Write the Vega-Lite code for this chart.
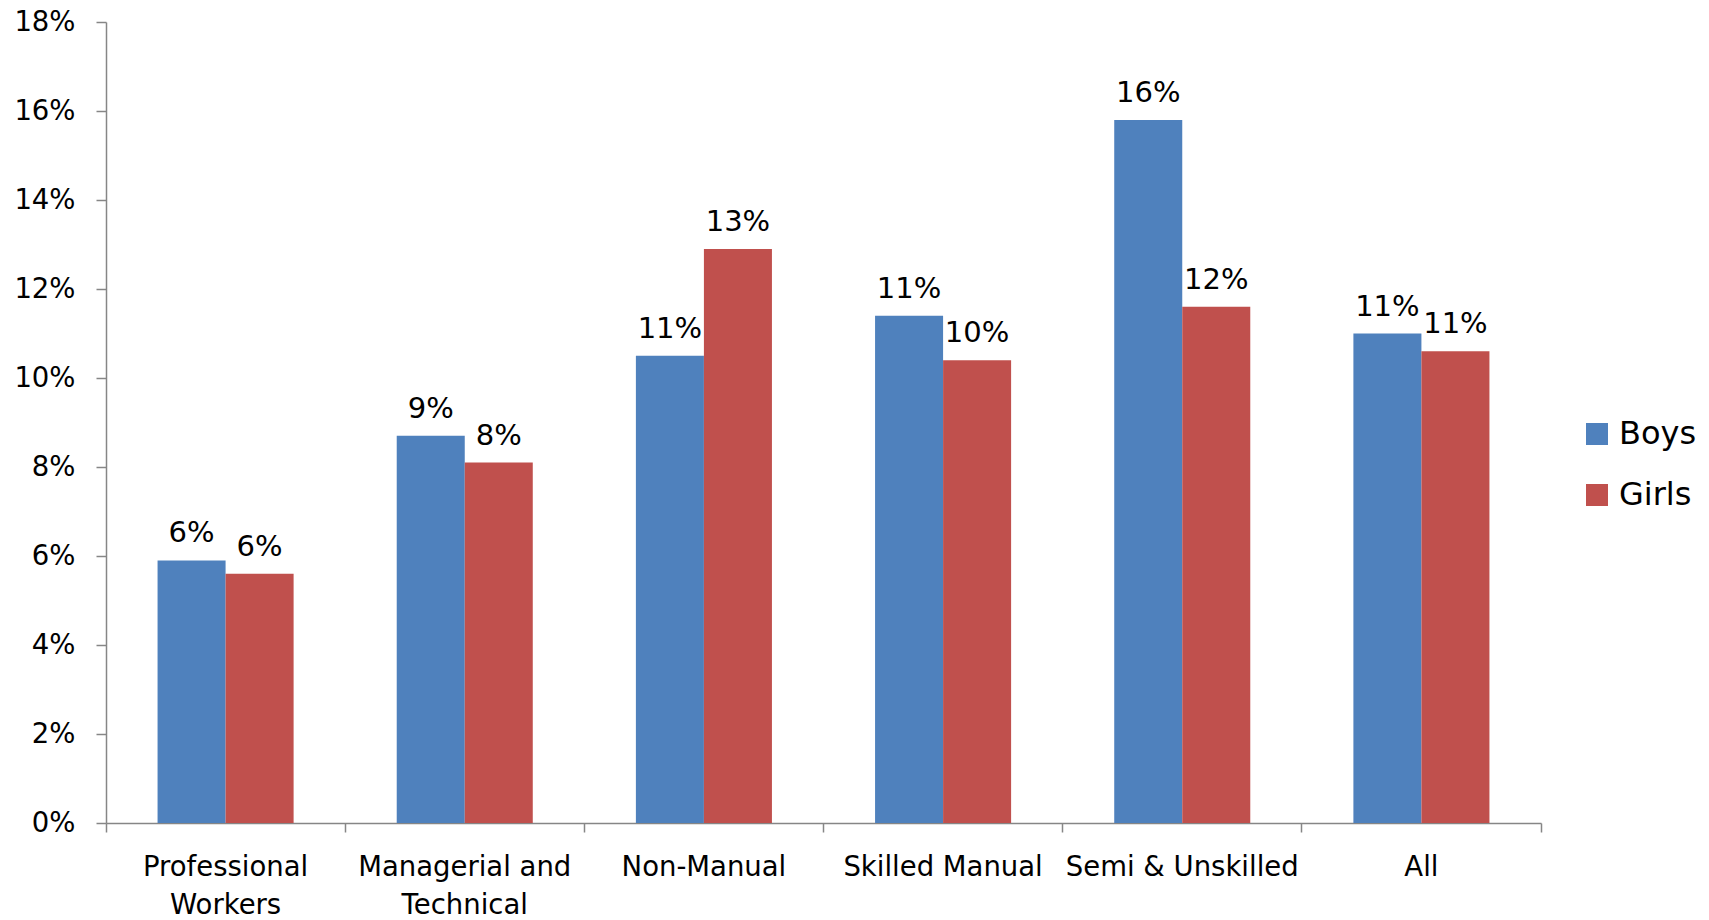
{
  "$schema": "https://vega.github.io/schema/vega-lite/v6.json",
  "width": 1435,
  "height": 801,
  "autosize": {"type": "none"},
  "padding": {"left": 106, "top": 22, "right": 168, "bottom": 97},
  "background": "white",
  "config": {"view": {"stroke": null}, "font": "DejaVu Sans"},
  "data": {
    "values": [
      {"category": "Professional Workers", "gender": "Boys", "value": 0.059},
      {"category": "Professional Workers", "gender": "Girls", "value": 0.056},
      {"category": "Managerial and Technical", "gender": "Boys", "value": 0.087},
      {"category": "Managerial and Technical", "gender": "Girls", "value": 0.081},
      {"category": "Non-Manual", "gender": "Boys", "value": 0.105},
      {"category": "Non-Manual", "gender": "Girls", "value": 0.129},
      {"category": "Skilled Manual", "gender": "Boys", "value": 0.114},
      {"category": "Skilled Manual", "gender": "Girls", "value": 0.104},
      {"category": "Semi & Unskilled", "gender": "Boys", "value": 0.158},
      {"category": "Semi & Unskilled", "gender": "Girls", "value": 0.116},
      {"category": "All", "gender": "Boys", "value": 0.110},
      {"category": "All", "gender": "Girls", "value": 0.106}
    ]
  },
  "encoding": {
    "x": {
      "field": "category",
      "type": "nominal",
      "sort": null,
      "scale": {"paddingInner": 0, "paddingOuter": 0},
      "axis": {
        "title": null,
        "labelAngle": 0,
        "labelFont": "DejaVu Sans",
        "labelFontSize": 27.5,
        "labelColor": "#000000",
        "labelPadding": 21,
        "labelLineHeight": 38,
        "labelLimit": 400,
        "labelExpr": "datum.value == 'Professional Workers' ? ['Professional', 'Workers'] : datum.value == 'Managerial and Technical' ? ['Managerial and', 'Technical'] : datum.value",
        "bandPosition": 1,
        "tickExtra": true,
        "tickSize": 9,
        "tickColor": "#868686",
        "tickWidth": 1.5,
        "domainColor": "#868686",
        "domainWidth": 1.5
      }
    },
    "xOffset": {
      "field": "gender",
      "type": "nominal",
      "scale": {"paddingInner": 0, "paddingOuter": 0.758}
    },
    "y": {
      "field": "value",
      "type": "quantitative",
      "scale": {"domain": [0, 0.18], "nice": false},
      "axis": {
        "title": null,
        "grid": false,
        "values": [0, 0.02, 0.04, 0.06, 0.08, 0.1, 0.12, 0.14, 0.16, 0.18],
        "format": ".0%",
        "labelFont": "DejaVu Sans",
        "labelFontSize": 27.5,
        "labelColor": "#000000",
        "labelPadding": 21,
        "tickSize": 10,
        "tickColor": "#868686",
        "tickWidth": 1.5,
        "domainColor": "#868686",
        "domainWidth": 1.5
      }
    }
  },
  "layer": [
    {
      "mark": {"type": "bar"},
      "encoding": {
        "color": {
          "field": "gender",
          "type": "nominal",
          "scale": {"domain": ["Boys", "Girls"], "range": ["#4F81BD", "#C0504D"]},
          "legend": {
            "title": null,
            "orient": "none",
            "legendX": 1475,
            "legendY": 396,
            "symbolType": "square",
            "symbolSize": 484,
            "symbolStrokeWidth": 0,
            "labelFont": "DejaVu Sans",
            "labelFontSize": 32,
            "labelColor": "#000000",
            "labelOffset": 6,
            "rowPadding": 29,
            "padding": 0
          }
        }
      }
    },
    {
      "mark": {"type": "text", "align": "center", "baseline": "alphabetic", "dy": -18, "fontSize": 29, "font": "DejaVu Sans", "color": "#000000"},
      "encoding": {
        "text": {"field": "value", "type": "quantitative", "format": ".0%"}
      }
    }
  ]
}
